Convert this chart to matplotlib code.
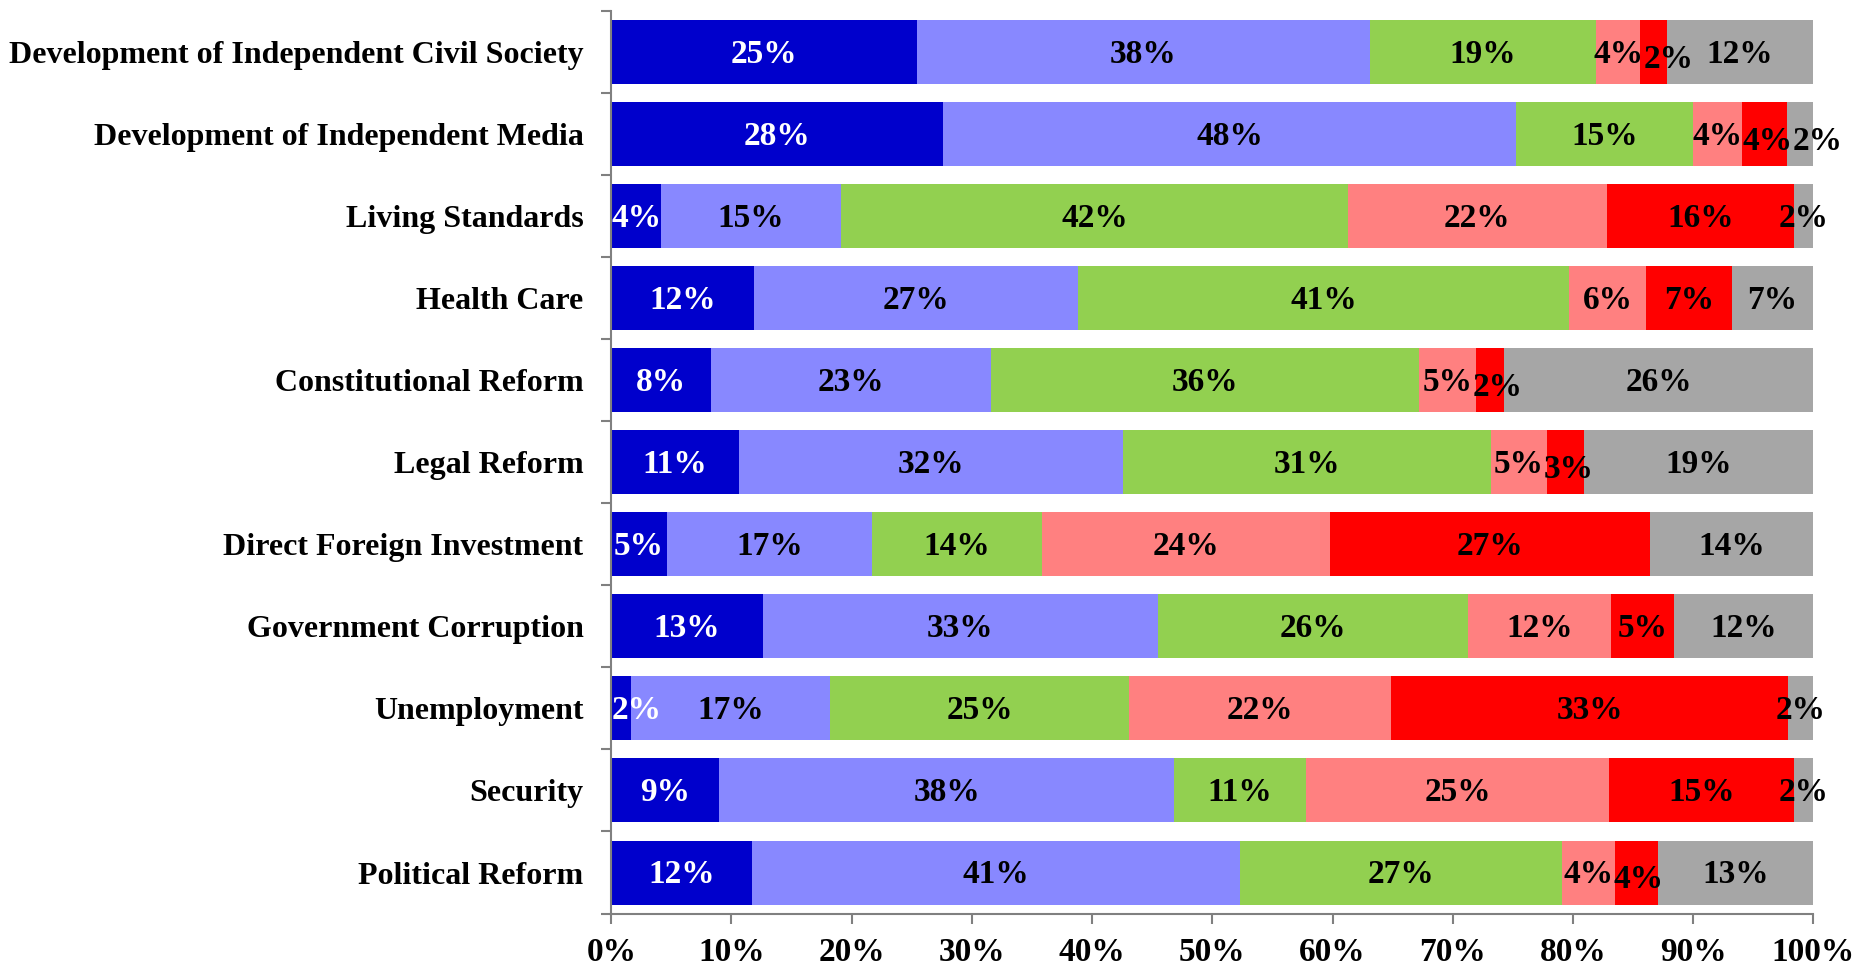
import numpy as np
import matplotlib
matplotlib.use('Agg')
import matplotlib.pyplot as plt

categories = ["Development of Independent Civil Society",
              "Development of Independent Media",
              "Living Standards",
              "Health Care",
              "Constitutional Reform",
              "Legal Reform",
              "Direct Foreign Investment",
              "Government Corruption",
              "Unemployment",
              "Security",
              "Political Reform"]

much_better = [25.4, 27.6, 4.1, 11.9, 8.3, 10.6, 4.6, 12.6, 1.6, 9.0, 11.7]
better = [37.7, 47.7, 15.0, 26.9, 23.3, 32.0, 17.1, 32.9, 16.6, 37.8, 40.6]
same = [18.8, 14.7, 42.2, 40.9, 35.6, 30.6, 14.1, 25.8, 24.9, 11.0, 26.8]
worse = [3.7, 4.1, 21.5, 6.4, 4.7, 4.6, 24.0, 11.9, 21.8, 25.2, 4.4]
much_worse = [2.2, 3.7, 15.6, 7.1, 2.4, 3.1, 26.6, 5.2, 33.0, 15.4, 3.6]
dont_know = [12.2, 2.2, 1.6, 6.8, 25.7, 19.1, 13.6, 11.6, 2.1, 1.6, 12.9]

series = [much_better, better, same, worse, much_worse, dont_know]
colors = ['#0000CC', '#8888FF', '#92D050', '#FF8080', '#FF0000', '#A6A6A6']
text_colors = ['white', 'black', 'black', 'black', 'black', 'black']

plt.rcParams['font.family'] = ['Liberation Serif', 'DejaVu Serif']
plt.rcParams['font.weight'] = 'bold'

fig = plt.figure(figsize=(18.58, 9.65), dpi=100)
ax = fig.add_axes([0.329, 0.0533, 0.647, 0.9357])

y = np.arange(len(categories))
left = np.zeros(len(categories))
labels = [[] for _ in categories]
for vals, c, tc in zip(series, colors, text_colors):
    vals = np.array(vals)
    ax.barh(y, vals, left=left, height=0.78, color=c, edgecolor='none')
    for yi, l, v in zip(y, left, vals):
        t = ax.text(l + v / 2, yi + 0.03, f"{v:.0f}%", ha='center', va='center',
                    color=tc, fontsize=24, fontweight='bold')
        labels[yi].append(t)
    left += vals

ax.set_xlim(0, 100)
ax.set_ylim(len(categories) - 0.5, -0.5)
ax.set_xticks(np.arange(0, 101, 10))
ax.set_xticklabels([f"{t}%" for t in range(0, 101, 10)], fontsize=24, fontweight='bold')
ax.set_yticks(y)
ax.set_yticklabels(categories, fontsize=23, fontweight='bold')
ax.tick_params(axis='y', length=0, pad=20)
ax.set_yticks(np.arange(-0.5, len(categories), 1), minor=True)
ax.tick_params(axis='y', which='minor', length=7, width=1.5, color='#808080', direction='out')
ax.tick_params(axis='x', length=7, width=1.5, color='#808080', direction='out', pad=10)

for s in ['top', 'right']:
    ax.spines[s].set_visible(False)
for s in ['left', 'bottom']:
    ax.spines[s].set_color('#808080')
    ax.spines[s].set_linewidth(1.5)

# push crowded labels apart like the original (left to right, keep inside left edge)
fig.canvas.draw()
r = fig.canvas.get_renderer()
px_per_unit = ax.transData.transform((1, 0))[0] - ax.transData.transform((0, 0))[0]
for row in labels:
    prev_right = 0.0
    for t in row:
        w = t.get_window_extent(r).width / px_per_unit
        x0, y0 = t.get_position()
        lo = x0 - w / 2
        if lo < prev_right:
            shift = prev_right - lo
            x0 += shift
            if prev_right > 0.0 and lo > 0:
                y0 += 0.06
            t.set_position((x0, y0))
        prev_right = x0 + w / 2

fig.savefig('out.png', dpi=100)
